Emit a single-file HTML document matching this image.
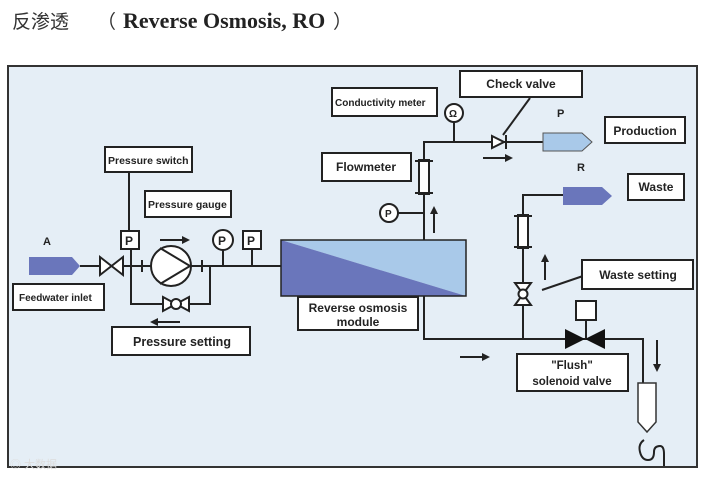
<!DOCTYPE html>
<html><head><meta charset="utf-8"><style>
html,body{margin:0;padding:0;background:#fff;width:723px;height:483px;overflow:hidden}
svg text{font-family:"Liberation Sans",sans-serif;font-weight:bold;fill:#222}
</style></head><body>
<svg width="723" height="483" viewBox="0 0 723 483" xmlns="http://www.w3.org/2000/svg">
<text x="12" y="28" style="font-family:'Noto Sans CJK SC',sans-serif;font-weight:normal;font-size:19px;fill:#333">反渗透</text>
<text x="97" y="28" style="font-family:'Noto Sans CJK SC',sans-serif;font-weight:normal;font-size:19px;fill:#333">（</text>
<text x="123" y="28" style="font-family:'Liberation Serif',serif;font-size:22px;fill:#222">Reverse Osmosis, RO</text>
<text x="333" y="28" style="font-family:'Noto Sans CJK SC',sans-serif;font-weight:normal;font-size:19px;fill:#333">）</text>

<rect x="8" y="66" width="689" height="401" fill="#e5eef6" stroke="#333" stroke-width="2"/>

<g stroke="#222" stroke-width="2" fill="none">
<line x1="80" y1="266" x2="281" y2="266"/>
<polyline points="131,248 131,304 210,304 210,266"/>
<line x1="129" y1="173" x2="129" y2="230"/>
<line x1="223" y1="250" x2="223" y2="266"/>
<line x1="252" y1="250" x2="252" y2="266"/>
<line x1="142" y1="260" x2="142" y2="272"/>
<line x1="202" y1="260" x2="202" y2="272"/>
<polyline points="424,240 424,142 543,142"/>
<line x1="454" y1="122" x2="454" y2="142"/>
<line x1="398" y1="213" x2="424" y2="213"/>
<polyline points="424,296 424,339 643,339 643,383"/>
<polyline points="523,339 523,195 563,195"/>
<line x1="586" y1="320" x2="586" y2="339"/>
<line x1="542" y1="290" x2="583" y2="276"/>
<line x1="503" y1="135" x2="530" y2="98"/>
</g>

<polygon points="29,257 72,257 80,266 72,275 29,275" fill="#6a76bb"/>
<text x="43" y="245" font-size="11">A</text>
<polygon points="100,257 123,275 123,257 100,275" fill="#fff" stroke="#222" stroke-width="2"/>
<circle cx="171" cy="266" r="20" fill="#fff" stroke="#222" stroke-width="2"/>
<polyline points="160,248 190,266 160,284" fill="none" stroke="#222" stroke-width="2"/>
<polygon points="163,297 189,311 189,297 163,311" fill="#fff" stroke="#222" stroke-width="2"/>
<circle cx="176" cy="304" r="5" fill="#fff" stroke="#222" stroke-width="2"/>
<rect x="121" y="231" width="18" height="18" fill="#fff" stroke="#222" stroke-width="2"/>
<text x="125" y="245" font-size="12">P</text>
<rect x="243" y="231" width="18" height="18" fill="#fff" stroke="#222" stroke-width="2"/>
<text x="247" y="245" font-size="12">P</text>
<circle cx="223" cy="240" r="10" fill="#fff" stroke="#222" stroke-width="2"/>
<text x="218" y="245" font-size="12">P</text>
<g stroke="#222" stroke-width="2" fill="#222">
<line x1="160" y1="240" x2="184" y2="240"/><polygon points="190,240 182,236 182,244" stroke="none"/>
<line x1="156" y1="322" x2="180" y2="322"/><polygon points="150,322 158,318 158,326" stroke="none"/>
<line x1="483" y1="158" x2="507" y2="158"/><polygon points="513,158 505,154 505,162" stroke="none"/>
<line x1="460" y1="357" x2="484" y2="357"/><polygon points="490,357 482,353 482,361" stroke="none"/>
<line x1="434" y1="233" x2="434" y2="213"/><polygon points="434,206 430,214 438,214" stroke="none"/>
<line x1="545" y1="280" x2="545" y2="261"/><polygon points="545,254 541,262 549,262" stroke="none"/>
<line x1="657" y1="340" x2="657" y2="365"/><polygon points="657,372 653,364 661,364" stroke="none"/>
</g>
<polygon points="281,240 466,240 466,296" fill="#a9c9e9"/>
<polygon points="281,240 466,296 281,296" fill="#6a76bb"/>
<rect x="281" y="240" width="185" height="56" fill="none" stroke="#222" stroke-width="1.5"/>
<g stroke="#222" stroke-width="2" fill="#fff">
<rect x="419" y="160" width="10" height="34"/>
<line x1="415" y1="161" x2="433" y2="161"/><line x1="415" y1="193" x2="433" y2="193"/>
<rect x="518" y="215" width="10" height="33"/>
<line x1="514" y1="216" x2="532" y2="216"/><line x1="514" y1="247" x2="532" y2="247"/>
</g>
<circle cx="389" cy="213" r="9" fill="#fff" stroke="#222" stroke-width="2"/>
<text x="385" y="217" font-size="10">P</text>
<circle cx="454" cy="113" r="9" fill="#fff" stroke="#222" stroke-width="2"/>
<text x="449" y="117" font-size="10" font-weight="normal">Ω</text>
<polygon points="492,136 504,142 492,148" fill="#fff" stroke="#222" stroke-width="2"/>
<line x1="506" y1="135" x2="506" y2="149" stroke="#222" stroke-width="2"/>
<polygon points="543,133 582,133 592,142 582,151 543,151" fill="#a9c9e9" stroke="#555"/>
<text x="557" y="117" font-size="11">P</text>
<polygon points="563,187 602,187 612,196 602,205 563,205" fill="#6a76bb"/>
<text x="577" y="171" font-size="11">R</text>
<polygon points="515,283 531,283 515,305 531,305" fill="#fff" stroke="#222" stroke-width="2"/>
<circle cx="523" cy="294" r="4.5" fill="#fff" stroke="#222" stroke-width="2"/>
<polygon points="565,329 605,349 605,329 565,349" fill="#111"/>
<rect x="576" y="301" width="20" height="19" fill="#fff" stroke="#222" stroke-width="2"/>
<polygon points="638,383 656,383 656,422 647,432 638,422" fill="#fff" stroke="#333" stroke-width="1.5"/>
<path d="M644,440 q-6,4 -4,12 q2,8 8,8 q6,0 6,-8 q0,-6 6,-6 q4,0 4,8 v12" fill="none" stroke="#222" stroke-width="2"/>

<g fill="#fff" stroke="#222" stroke-width="2">
<rect x="105" y="147" width="87" height="25"/>
<rect x="145" y="191" width="86" height="26"/>
<rect x="13" y="284" width="91" height="26"/>
<rect x="112" y="327" width="138" height="28"/>
<rect x="298" y="297" width="120" height="33"/>
<rect x="332" y="88" width="105" height="28"/>
<rect x="460" y="71" width="122" height="26"/>
<rect x="605" y="117" width="80" height="26"/>
<rect x="322" y="153" width="89" height="28"/>
<rect x="628" y="174" width="56" height="26"/>
<rect x="582" y="260" width="111" height="29"/>
<rect x="517" y="354" width="111" height="37"/>
</g>
<g font-size="11">
<text x="108" y="164" font-size="10.5">Pressure switch</text>
<text x="148" y="208" font-size="10.5">Pressure gauge</text>
<text x="19" y="301" font-size="10">Feedwater inlet</text>
<text x="133" y="346" font-size="12.5">Pressure setting</text>
<text x="358" y="312" text-anchor="middle" font-size="12">Reverse osmosis</text>
<text x="358" y="326" text-anchor="middle" font-size="12">module</text>
<text x="335" y="106" font-size="10">Conductivity meter</text>
<text x="521" y="88" text-anchor="middle" font-size="12">Check valve</text>
<text x="645" y="135" text-anchor="middle" font-size="12">Production</text>
<text x="366" y="171" text-anchor="middle" font-size="12">Flowmeter</text>
<text x="656" y="191" text-anchor="middle" font-size="12">Waste</text>
<text x="638" y="279" text-anchor="middle" font-size="12">Waste setting</text>
<text x="572" y="369" text-anchor="middle" font-size="11.5">"Flush"</text>
<text x="572" y="385" text-anchor="middle" font-size="11.5">solenoid valve</text>
</g>
<text x="10" y="468" font-size="11" style="fill:#ddd;font-weight:normal">◎ 大数据</text>
</svg>
</body></html>
